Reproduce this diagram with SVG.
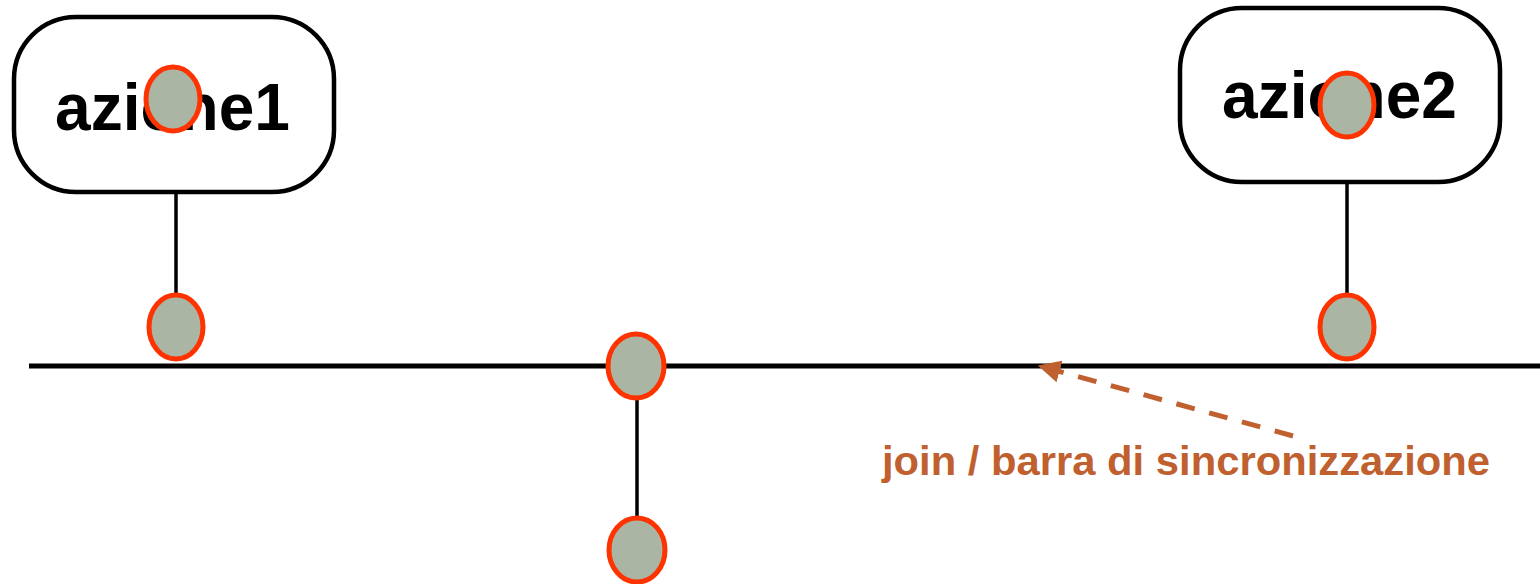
<svg xmlns="http://www.w3.org/2000/svg" width="1540" height="584" viewBox="0 0 1540 584">
<style>
.box{fill:#fff;stroke:#000;stroke-width:4.5}
.lbl{font-family:"Liberation Sans",Arial,sans-serif;font-weight:bold;font-size:66px;fill:#000}
.pt{fill:#ABB5A3;stroke:#FF3300;stroke-width:5}
.wire{stroke:#000;stroke-width:3.5;fill:none}
.bar{stroke:#000;stroke-width:5;fill:none}
.note{stroke:#C0602F;stroke-width:5;fill:none;stroke-dasharray:19 15}
.notetext{font-family:"Liberation Sans",Arial,sans-serif;font-weight:bold;font-size:41px;fill:#C0602F}
</style>
<defs>
<marker id="ah" viewBox="0 0 10 10" refX="9" refY="5" markerWidth="4.5" markerHeight="4.5" orient="auto" markerUnits="strokeWidth">
<path d="M0,0 L10,5 L0,10 z" fill="#C0602F"/>
</marker>
</defs>
<g id="connectors">
<line class="wire" x1="176" y1="192" x2="176" y2="296"/>
<line class="wire" x1="1347" y1="182" x2="1347" y2="296"/>
<line class="wire" x1="637" y1="398" x2="637" y2="518"/>
<line class="bar" x1="29" y1="366" x2="1540" y2="366"/>
<line class="note" x1="1293" y1="436" x2="1040" y2="366" marker-end="url(#ah)"/>
</g>
<g id="azione1">
<rect class="box" x="14" y="17" width="320" height="175" rx="62"/>
<text class="lbl" x="55" y="130" textLength="235" lengthAdjust="spacingAndGlyphs">azione1</text>
<ellipse class="pt" cx="173" cy="99" rx="27" ry="32"/>
</g>
<g id="azione2">
<rect class="box" x="1180" y="8" width="320" height="174" rx="62"/>
<text class="lbl" x="1222" y="118" textLength="235" lengthAdjust="spacingAndGlyphs">azione2</text>
<ellipse class="pt" cx="1347" cy="105" rx="27" ry="32"/>
</g>
<g id="pin1">
<ellipse class="pt" cx="176" cy="327" rx="27" ry="32"/>
</g>
<g id="pin2">
<ellipse class="pt" cx="1347" cy="327" rx="27" ry="32"/>
</g>
<g id="join">
<ellipse class="pt" cx="636" cy="366" rx="28" ry="32"/>
</g>
<g id="out">
<ellipse class="pt" cx="637" cy="550" rx="28" ry="32"/>
</g>
<g id="label">
<text class="notetext" x="882" y="475" textLength="608" lengthAdjust="spacingAndGlyphs">join / barra di sincronizzazione</text>
</g>
</svg>
